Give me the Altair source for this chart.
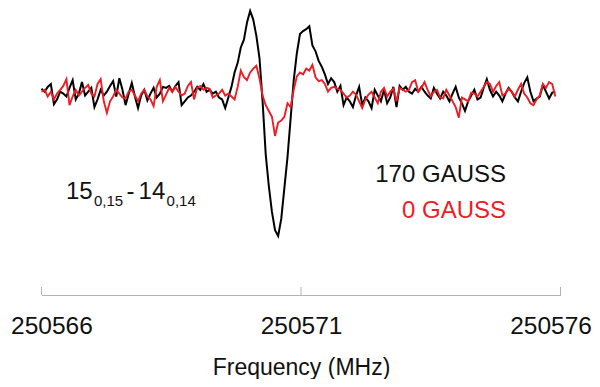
import altair as alt
import pandas as pd

# ---- data ----
freq_start = 250566.0      # MHz, first channel
freq_step = 0.06           # MHz, channel spacing
tick_values = [250566, 250571, 250576]

black_170_gauss = [
    3, 0, 5, 8, -13, -8, 0, -2, -5, 4,
    12, -8, -2, 10, -4, 0, 4, -16, -8, 2,
    -4, 0, 6, 11, -5, 14, 2, -14, -2, 9,
    -5, -17, -4, 2, -9, -2, 4, -6, -2, 5,
    4, 6, 0, 6, 10, -14, -10, -6, -4, 0,
    5, 2, 8, 0, 2, -2, 0, -6, -8, -17,
    -6, 5, 20, 30, 46, 54, 72, 84, 75, 58,
    35, -10, -65, -98, -125, -144, -150, -132, -100, -68,
    -28, 12, 40, 60, 63, 65, 68, 48, 42, 32,
    26, 18, 8, 14, 10, 0, 6, -14, -6, -10,
    -16, -4, 5, -14, -6, -10, -17, 2, -4, -10,
    2, -12, -6, 5, -16, 6, 2, 5, 0, -2,
    3, 0, 5, 0, -4, -7, 4, -2, -7, 0,
    -4, -10, -2, 5, -6, -12, -20, -10, -4, 2,
    -8, -6, 4, 13, 2, -5, 0, -4, -10, -2,
    4, 0, -6, -10, 0, 9, 15, 0, -10, -7,
    -5, 7, 0, -7, -1, 0,
]

red_0_gauss = [
    0, 2, -5, 0, -8, -2, 2, 6, 13, -14,
    -5, 2, -4, 0, 4, 7, -2, -5, 8, 13,
    -10, -22, -10, -5, 2, -2, -6, -7, 0, 2,
    -4, -10, -2, 2, -5, -8, -15, 5, 12, -10,
    -3, 4, 0, 5, 0, -4, -2, 6, 10, -8,
    4, 6, 2, 4, 3, -6, -4, -2, 2, -4,
    -2, -5, -8, 5, 22, 15, 12, 20, 24, 27,
    14, -4, -14, -20, -26, -46, -32, -30, -26, -12,
    -16, 2, 16, 20, 18, 24, 22, 28, 15, 11,
    12, 8, 0, 4, 5, 3, 2, -2, -6, -4,
    0, -3, -10, -17, -8, -3, 0, -6, -12, 0,
    4, -5, 0, 3, -10, 4, 2, 0, 2, 10,
    12, 0, 4, 10, 2, -5, 0, 2, -6, -7,
    2, -4, -10, -16, -27, -6, -8, -10, -1, -2,
    -5, 0, 5, 10, 8, 0, 6, 10, -4, -2,
    3, 0, -5, 2, 8, -2, -6, -12, -14, -8,
    -4, 8, 4, 10, 8, -5,
]

n = len(black_170_gauss)
freq = [round(freq_start + i * freq_step, 3) for i in range(n)]

df_black = pd.DataFrame({"freq": freq, "intensity": black_170_gauss})
df_red = pd.DataFrame({"freq": freq, "intensity": red_0_gauss})

FONT = "Liberation Sans"
RED = "#ee1c24"
W, H = 519, 287

x_scale = alt.Scale(domain=[250566, 250576], nice=False, zero=False)
y_scale = alt.Scale(domain=[-211.3, 87], nice=False, zero=False)

x_axis = alt.Axis(
    values=tick_values, format="d", title="Frequency (MHz)",
    labelFontSize=24.5, titleFontSize=23, labelFont=FONT, titleFont=FONT,
    labelColor="#111111", titleColor="#111111", titleFontWeight="normal",
    domainColor="#b4b4b4", domainWidth=1, ticks=False, tickSize=0, grid=False,
    labelPadding=19, titlePadding=19, labelFlush=True, labelFlushOffset=31,
)

black_line = alt.Chart(df_black).mark_line(color="black", strokeWidth=2).encode(
    x=alt.X("freq:Q", scale=x_scale, axis=x_axis),
    y=alt.Y("intensity:Q", scale=y_scale, axis=None),
)
red_line = alt.Chart(df_red).mark_line(color=RED, strokeWidth=1.9).encode(
    x=alt.X("freq:Q", scale=x_scale),
    y=alt.Y("intensity:Q", scale=y_scale, axis=None),
)

tick_rules = alt.Chart(pd.DataFrame({"freq": tick_values})).mark_rule(
    color="#b4b4b4", strokeWidth=1
).encode(
    x=alt.X("freq:Q", scale=x_scale),
    y=alt.value(H - 8),
    y2=alt.value(H),
)

legend_df = pd.DataFrame({
    "freq": [250574.95, 250574.95],
    "intensity": [-94, -131],
    "text": ["170 GAUSS", "0 GAUSS"],
    "color": ["#111111", RED],
})
legend_text = alt.Chart(legend_df).mark_text(
    align="right", baseline="alphabetic", font=FONT, fontSize=24
).encode(
    x=alt.X("freq:Q", scale=x_scale),
    y=alt.Y("intensity:Q", scale=y_scale),
    text="text:N",
    color=alt.Color("color:N", scale=None),
)

label_df = pd.DataFrame({
    "freq": [250566.47, 250567.01, 250567.64, 250567.87, 250568.41],
    "intensity": [-112, -119, -112, -112, -119],
    "text": ["15", "0,15", "-", "14", "0,14"],
    "size": [24, 15, 24, 24, 15],
})
transition_text = alt.Chart(label_df).mark_text(
    align="left", baseline="alphabetic", font=FONT, color="#111111"
).encode(
    x=alt.X("freq:Q", scale=x_scale),
    y=alt.Y("intensity:Q", scale=y_scale),
    text="text:N",
    size=alt.Size("size:Q", scale=None),
)

chart = alt.layer(
    tick_rules, black_line, red_line, legend_text, transition_text
).properties(
    width=W, height=H,
    autosize=alt.AutoSizeParams(type="none"),
    padding={"left": 33.5, "top": 0, "right": 31.5, "bottom": 84},
    background="white",
).configure(font=FONT).configure_view(stroke=None)

chart.save("out.html", embed_options={"renderer": "svg", "actions": False})
